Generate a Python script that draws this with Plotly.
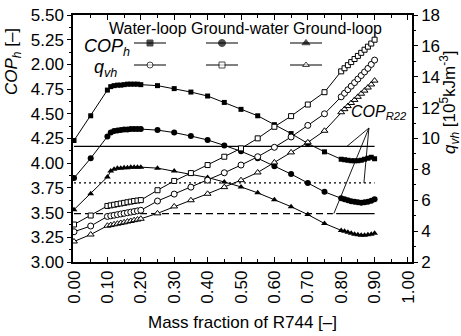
import plotly.graph_objects as go

# ---------------- data ----------------
x_frac = [0.00, 0.05, 0.10, 0.11, 0.12, 0.13, 0.14, 0.15, 0.16, 0.17, 0.18, 0.19, 0.20,
          0.25, 0.30, 0.35, 0.40, 0.45, 0.50, 0.55, 0.60, 0.65, 0.70, 0.75,
          0.80, 0.81, 0.82, 0.83, 0.84, 0.85, 0.86, 0.87, 0.88, 0.89, 0.90]

cop_wl = [4.23, 4.48, 4.74, 4.775, 4.785, 4.79, 4.79, 4.795, 4.80, 4.80, 4.80, 4.80, 4.795,
          4.785, 4.755, 4.72, 4.68, 4.615, 4.545, 4.48, 4.39, 4.30, 4.20, 4.115,
          4.04, 4.035, 4.03, 4.025, 4.025, 4.025, 4.03, 4.04, 4.05, 4.06, 4.045]
cop_gw = [3.85, 4.05, 4.27, 4.31, 4.325, 4.33, 4.335, 4.34, 4.34, 4.345, 4.345, 4.345, 4.345,
          4.335, 4.31, 4.275, 4.235, 4.18, 4.12, 4.05, 3.97, 3.89, 3.80, 3.71,
          3.645, 3.635, 3.625, 3.615, 3.61, 3.605, 3.60, 3.605, 3.61, 3.62, 3.635]
cop_gl = [3.53, 3.69, 3.86, 3.92, 3.94, 3.95, 3.95, 3.955, 3.955, 3.96, 3.96, 3.96, 3.96,
          3.95, 3.92, 3.89, 3.855, 3.81, 3.76, 3.70, 3.63, 3.56, 3.48, 3.39,
          3.32, 3.31, 3.30, 3.29, 3.28, 3.275, 3.27, 3.27, 3.275, 3.28, 3.29]

q_wl = [3.96, 4.33, 4.95, 4.99, 5.03, 5.07, 5.11, 5.15, 5.19, 5.23, 5.27, 5.31, 5.35,
        5.95, 6.40, 6.85, 7.30, 7.78, 8.28, 8.82, 9.43, 10.10, 10.85, 11.60,
        12.70, 12.93, 13.16, 13.39, 13.62, 13.85, 14.08, 14.31, 14.54, 14.80, 15.08]
q_gw = [4.43, 5.01, 5.63, 5.67, 5.71, 5.75, 5.79, 5.83, 5.87, 5.91, 5.95, 5.98, 6.01,
        6.65, 7.25, 7.76, 8.28, 8.82, 9.36, 10.01, 10.76, 11.45, 12.20, 13.00,
        14.35, 14.55, 14.75, 14.95, 15.15, 15.35, 15.55, 15.75, 15.95, 16.15, 16.40]
q_gl = [3.33, 3.78, 4.35, 4.39, 4.44, 4.48, 4.53, 4.57, 4.62, 4.66, 4.71, 4.75, 4.80,
        5.15, 5.60, 6.00, 6.42, 6.85, 7.30, 7.80, 8.45, 9.10, 9.75, 10.50,
        11.70, 11.90, 12.10, 12.30, 12.50, 12.70, 12.90, 13.10, 13.30, 13.50, 13.75]

cop_r22 = [4.17, 3.80, 3.49]          # water-loop, ground-water, ground-loop
r22_x_end = 0.90
systems = ["Water-loop", "Ground-water", "Ground-loop"]

x_ticks = [0.0, 0.1, 0.2, 0.3, 0.4, 0.5, 0.6, 0.7, 0.8, 0.9, 1.0]
x_ticktext = ["0.00", "0.10", "0.20", "0.30", "0.40", "0.50", "0.60", "0.70", "0.80", "0.90", "1.00"]
y_ticks = [3.00, 3.25, 3.50, 3.75, 4.00, 4.25, 4.50, 4.75, 5.00, 5.25, 5.50]
y_ticktext = ["3.00", "3.25", "3.50", "3.75", "4.00", "4.25", "4.50", "4.75", "2.00", "5.25", "5.50"]
y2_ticks = [2, 4, 6, 8, 10, 12, 14, 16, 18]

# ---------------- layout geometry (screen pixels) ----------------
W, H = 461, 336
L, R, T, B = 73, 412, 15, 262  # plot area
FONT = "Liberation Sans, Arial, sans-serif"


def px_x(p):
    return (p - L) / (R - L)


def px_y(p):
    return (B - p) / (B - T)


fig = go.Figure()

line_k = dict(color="black", width=1)
cop_series = [(cop_wl, "square", 5), (cop_gw, "circle", 6), (cop_gl, "triangle-up", 6)]
q_series = [(q_wl, "circle", 6), (q_gw, "square", 5), (q_gl, "triangle-up", 6)]

for vals, sym, sz in cop_series:
    fig.add_trace(go.Scatter(x=x_frac, y=vals, mode="lines+markers", line=line_k,
                             marker=dict(symbol=sym, size=sz, color="black"),
                             yaxis="y", showlegend=False, hoverinfo="skip"))
for vals, sym, sz in q_series:
    fig.add_trace(go.Scatter(x=x_frac, y=vals, mode="lines+markers", line=line_k,
                             marker=dict(symbol=sym, size=sz, color="white",
                                         line=dict(color="black", width=1)),
                             yaxis="y2", showlegend=False, hoverinfo="skip"))

# COP of R22 reference lines
fig.add_trace(go.Scatter(x=[0, r22_x_end], y=[cop_r22[0]] * 2, mode="lines",
                         line=dict(color="black", width=1.2), showlegend=False, hoverinfo="skip"))
fig.add_trace(go.Scatter(x=[0, r22_x_end], y=[cop_r22[1]] * 2, mode="lines",
                         line=dict(color="black", width=1.2, dash="2px,3px"), showlegend=False,
                         hoverinfo="skip"))
fig.add_trace(go.Scatter(x=[0, 0.775], y=[cop_r22[2]] * 2, mode="lines",
                         line=dict(color="black", width=1.2, dash="7px,4px"), showlegend=False,
                         hoverinfo="skip"))
fig.add_trace(go.Scatter(x=[0.785, r22_x_end], y=[cop_r22[2]] * 2, mode="lines",
                         line=dict(color="black", width=1.2), showlegend=False, hoverinfo="skip"))

# leader lines to the COP_R22 label
hub = (0.883, 4.356)
for ex, ey in [(0.817, cop_r22[0]), (0.868, cop_r22[1]), (0.778, cop_r22[2])]:
    fig.add_shape(type="line", xref="x", yref="y", x0=hub[0], y0=hub[1], x1=ex, y1=ey,
                  line=dict(color="black", width=0.9))

# legend samples on an invisible overlay axis (0..1 over plot area)
leg_cx = [px_x(150), px_x(222), px_x(306)]
half = 16 / (R - L)
rows = [(px_y(43), [("square", 6, "black"), ("circle", 7, "black"), ("triangle-up", 7, "black")]),
        (px_y(65), [("circle", 6, "white"), ("square", 6, "white"), ("triangle-up", 6, "white")])]
for yy, syms in rows:
    for cx, (sym, sz, col) in zip(leg_cx, syms):
        fig.add_trace(go.Scatter(x=[cx - half, cx, cx + half], y=[yy] * 3, mode="lines+markers",
                                 line=line_k, xaxis="x3", yaxis="y3",
                                 marker=dict(symbol=sym, size=[0, sz, 0], color=col,
                                             line=dict(color="black", width=1)),
                                 showlegend=False, hoverinfo="skip"))


def txt(text, x, y, size, xa="center", angle=0):
    return dict(text=text, x=px_x(x), y=px_y(y), xref="paper", yref="paper",
                xanchor=xa, yanchor="middle", textangle=angle, showarrow=False,
                font=dict(size=size, family=FONT, color="black"))


ann = []
for name, cx in zip(systems, [147.5, 240, 337.5]):
    ann.append(txt(name, cx, 28, 16))
ann.append(txt("<i>COP<sub>h</sub></i>", 82, 47, 18, xa="left"))
ann.append(txt("<i>q<sub>vh</sub></i>", 92, 68, 18, xa="left"))
ann.append(txt("<i>COP<sub>R22</sub></i>", 349, 112, 16, xa="left"))
ann.append(txt("<i>COP<sub>h</sub></i> [–]", 13, 62, 17, angle=-90))
ann.append(txt("<i>q<sub>vh</sub></i> [10<sup>5</sup>kJm<sup>-3</sup>]", 449, 102, 17, angle=-90))
ann.append(txt("Mass fraction of R744 [–]", 242, 322, 17))

fig.update_layout(
    width=W, height=H,
    margin=dict(l=L, r=W - R, t=T, b=H - B, pad=0),
    paper_bgcolor="white", plot_bgcolor="white",
    font=dict(family=FONT, size=17, color="black"),
    annotations=ann, hovermode=False,
    xaxis=dict(range=[-0.003, 1.012], tickvals=x_ticks, ticktext=x_ticktext, tickangle=-90,
               ticks="inside", ticklen=5, tickwidth=1, tickcolor="black",
               minor=dict(dtick=0.05, tick0=0, ticks="inside", ticklen=3, tickcolor="black"),
               showline=True, linecolor="black", linewidth=1.5, mirror="ticks",
               showgrid=False, zeroline=False, tickfont=dict(size=17), automargin=False,
               ticklabeloverflow="allow"),
    yaxis=dict(range=[3.0, 5.5], tickvals=y_ticks, ticktext=y_ticktext,
               ticks="outside", ticklen=4, tickwidth=1, tickcolor="black",
               minor=dict(dtick=0.125, tick0=3, ticks="outside", ticklen=2, tickcolor="black"),
               showline=True, linecolor="black", linewidth=1.5, showgrid=False, zeroline=False,
               tickfont=dict(size=17), automargin=False, ticklabeloverflow="allow"),
    yaxis2=dict(range=[2, 18], tickvals=y2_ticks, overlaying="y", side="right",
                ticks="outside", ticklen=4, tickwidth=1, tickcolor="black",
                minor=dict(dtick=1, tick0=2, ticks="outside", ticklen=2, tickcolor="black"),
                showline=True, linecolor="black", linewidth=1.5, showgrid=False, zeroline=False,
                tickfont=dict(size=17), automargin=False, ticklabeloverflow="allow"),
    xaxis3=dict(range=[0, 1], overlaying="x", visible=False),
    yaxis3=dict(range=[0, 1], overlaying="y", visible=False),
)

fig.write_html("out.html", config={"displayModeBar": False},
               post_script="document.body.style.margin='0px';")
